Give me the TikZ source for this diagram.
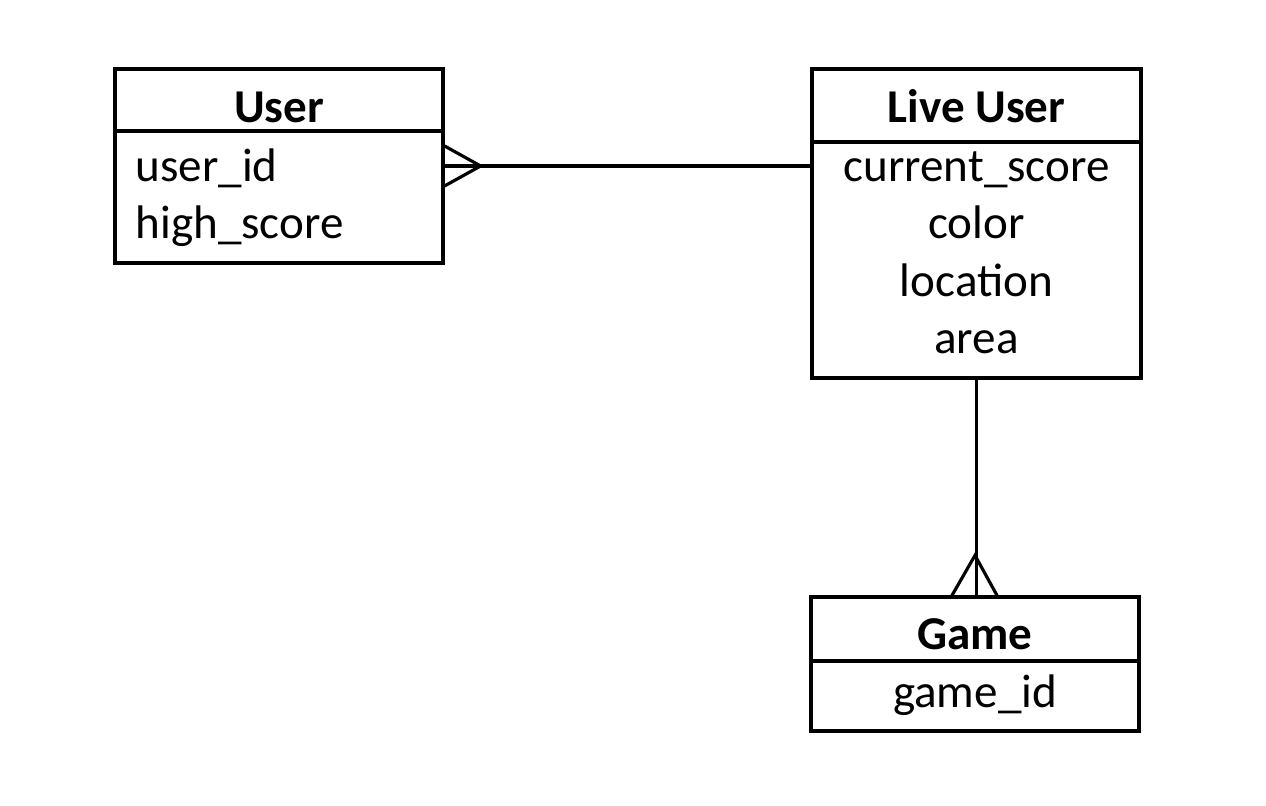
\documentclass[tikz,border=0pt]{standalone}
\usepackage{fontspec}
\setmainfont{Carlito}
\usetikzlibrary{positioning}

\tikzset{
  entity/.style={draw=black,line width=0.9pt,minimum width=3.28cm,inner sep=0pt},
  title/.style={anchor=base,font=\fontsize{13.4}{16}\selectfont\bfseries,inner sep=0pt},
  attr/.style={anchor=base,font=\fontsize{13.4}{16}\selectfont,inner sep=0pt},
  link/.style={draw=black,line width=0.9pt}
}

\begin{document}
\begin{tikzpicture}
\useasboundingbox (0,0) rectangle (12.66,8.06);
\begin{scope}[]
% User
\node[entity,minimum height=1.94cm] (user) at (2.79,6.40) {};
\draw[link] (1.15,6.75) -- (4.43,6.75);
\node[title] (usertitle) at (2.79,6.83) {User};
\node[attr,anchor=base west] (userid) at (1.35,6.24) {user\_id};
\node[attr,anchor=base west] (highscore) at (1.35,5.67) {high\_score};
\end{scope}
\begin{scope}[]
% Live User
\node[entity,minimum width=3.29cm,minimum height=3.09cm] (live) at (9.765,5.825) {};
\draw[link] (8.12,6.64) -- (11.41,6.64);
\node[title] (livetitle) at (9.765,6.83) {Live User};
\node[attr] (curscore) at (9.765,6.24) {current\_score};
\node[attr] (color) at (9.765,5.67) {color};
\node[attr] (location) at (9.765,5.09) {location};
\node[attr] (area) at (9.765,4.52) {area};
\end{scope}
\begin{scope}[]
% Game
\node[entity,minimum height=1.34cm] (game) at (9.75,1.42) {};
\draw[link] (8.11,1.45) -- (11.39,1.45);
\node[title] (gametitle) at (9.75,1.56) {Game};
\node[attr] (gameid) at (9.75,0.98) {game\_id};
\end{scope}
% relations
\draw[link] (user.east) -- (user.east -| live.west);
\draw[link] (user.east) ++(0,0.2) -- ++(0.36,-0.2) -- ++(-0.36,-0.2);
\draw[link] (live.south) -- (live.south |- game.north);
\draw[link] (game.north) ++(-0.23,0) -- ++(0.23,0.4) -- ++(0.22,-0.4);
\end{tikzpicture}
\end{document}
